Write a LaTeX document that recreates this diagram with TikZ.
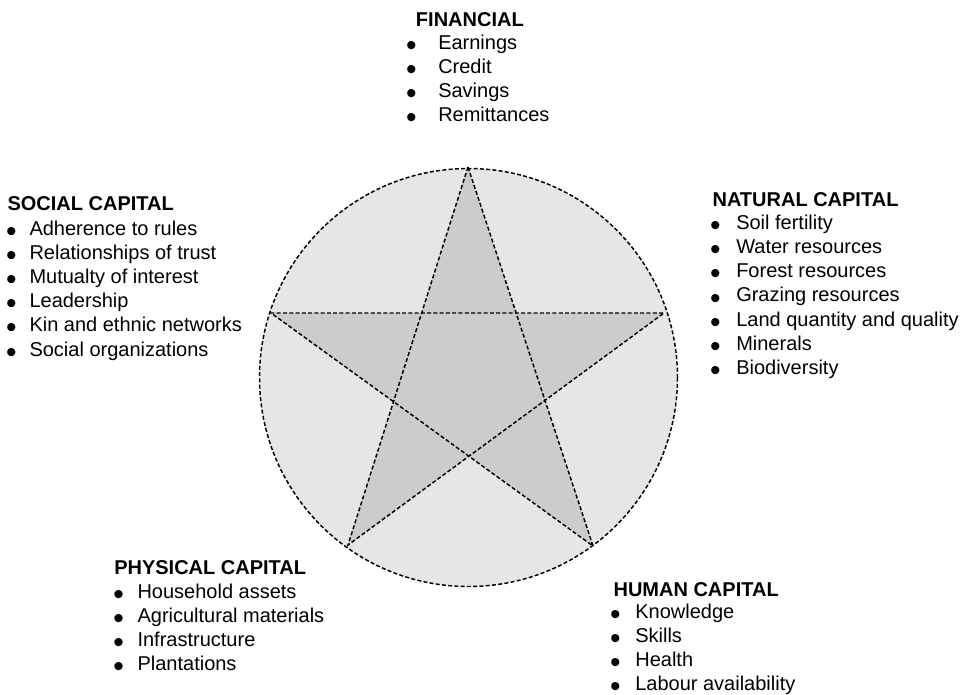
\documentclass[tikz,border=0pt]{standalone}
\usepackage{fontspec}
\setmainfont{Liberation Sans}
\definecolor{ringgray}{RGB}{230,230,230}
\definecolor{stargray}{RGB}{204,204,204}
\newcommand{\capdot}{\raisebox{-4.6pt}{\fontsize{22.5}{22.5}\selectfont\textbullet}}
\newcommand{\itemlist}[2]{\begin{tabular}[t]{@{}c@{\hspace{#1}}l@{}}#2\end{tabular}}
\begin{document}
\begin{tikzpicture}[x=0.75pt,y=-0.75pt,
    head/.style={anchor=base west,inner sep=0pt,font=\fontsize{15}{18.15}\selectfont\bfseries},
    items/.style={anchor=base west,inner sep=0pt,font=\fontsize{15}{18.15}\selectfont},
    cut/.style={dash pattern=on 3pt off 1.7pt,line width=1.1pt}]
  \useasboundingbox (0,0) rectangle (968,694);
  % circle and star
  \filldraw[fill=ringgray,cut] (468.5,377.5) circle[radius=209];
  \coordinate (ptop) at (468,167);
  \coordinate (pright) at (664,313);
  \coordinate (pleft) at (271,313);
  \coordinate (pbl) at (348,545);
  \coordinate (pbr) at (593,546);
  \fill[stargray] (ptop) -- (pbl) -- (pright) -- (pleft) -- (pbr) -- cycle;
  \draw[cut] (ptop) -- (pbl) -- (pright) -- (pleft) -- (pbr) -- cycle;
  % capitals
  \node[head] (fin) at (415.7,26) {FINANCIAL};
  \node[items] (finlist) at (405.75,49) {\itemlist{16.3pt}{%
    \capdot & Earnings\\ \capdot & Credit\\ \capdot & Savings\\ \capdot & Remittances}};
  \node[head] (nat) at (712.3,206.5) {NATURAL CAPITAL};
  \node[items] (natlist) at (709.75,229.3) {\itemlist{11.8pt}{%
    \capdot & Soil fertility\\ \capdot & Water resources\\ \capdot & Forest resources\\
    \capdot & Grazing resources\\ \capdot & Land quantity and quality\\
    \capdot & Minerals\\ \capdot & Biodiversity}};
  \node[head] (soc) at (7.3,210.7) {SOCIAL CAPITAL};
  \node[items] (soclist) at (5.95,235) {\itemlist{9.6pt}{%
    \capdot & Adherence to rules\\ \capdot & Relationships of trust\\
    \capdot & Mutualty of interest\\ \capdot & Leadership\\
    \capdot & Kin and ethnic networks\\ \capdot & Social organizations}};
  \node[head] (phy) at (114,574.3) {PHYSICAL CAPITAL};
  \node[items] (phylist) at (113.05,598) {\itemlist{10.3pt}{%
    \capdot & Household assets\\ \capdot & Agricultural materials\\
    \capdot & Infrastructure\\ \capdot & Plantations}};
  \node[head] (hum) at (613.3,596) {HUMAN CAPITAL};
  \node[items] (humlist) at (609.75,618) {\itemlist{11.1pt}{%
    \capdot & Knowledge\\ \capdot & Skills\\ \capdot & Health\\
    \capdot & Labour availability}};
\end{tikzpicture}
\end{document}
